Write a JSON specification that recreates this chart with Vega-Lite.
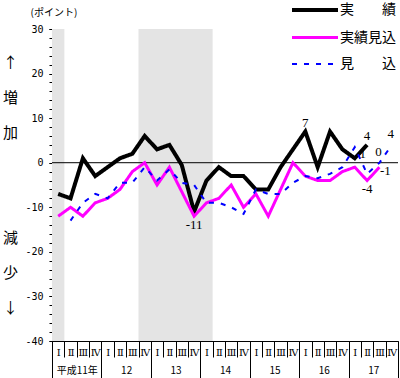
{
  "$schema": "https://vega.github.io/schema/vega-lite/v6.json",
  "width": 346,
  "height": 312,
  "autosize": {"type": "none"},
  "padding": {"left": 52, "top": 29, "right": 2, "bottom": 37},
  "background": "#ffffff",
  "config": {"view": {"stroke": null}, "axis": {"labelOverlap": false, "labelFlush": false, "labelBound": false}, "legend": {"rowPadding": 10, "padding": 0}},
  "datasets": {
    "shade": [{"a": 0, "b": 1}, {"a": 7, "b": 13}],
    "zero": [{"z": 0}],
    "main": [
      {"t": 0.5, "series": "実　　績", "v": -7}, {"t": 1.5, "series": "実　　績", "v": -8}, {"t": 2.5, "series": "実　　績", "v": 1}, {"t": 3.5, "series": "実　　績", "v": -3},
      {"t": 4.5, "series": "実　　績", "v": -1}, {"t": 5.5, "series": "実　　績", "v": 1}, {"t": 6.5, "series": "実　　績", "v": 2}, {"t": 7.5, "series": "実　　績", "v": 6},
      {"t": 8.5, "series": "実　　績", "v": 3}, {"t": 9.5, "series": "実　　績", "v": 4}, {"t": 10.5, "series": "実　　績", "v": -0.5}, {"t": 11.5, "series": "実　　績", "v": -11},
      {"t": 12.5, "series": "実　　績", "v": -4}, {"t": 13.5, "series": "実　　績", "v": -1}, {"t": 14.5, "series": "実　　績", "v": -3}, {"t": 15.5, "series": "実　　績", "v": -3},
      {"t": 16.5, "series": "実　　績", "v": -6}, {"t": 17.5, "series": "実　　績", "v": -6}, {"t": 18.5, "series": "実　　績", "v": -1}, {"t": 19.5, "series": "実　　績", "v": 3},
      {"t": 20.5, "series": "実　　績", "v": 7}, {"t": 21.5, "series": "実　　績", "v": -1}, {"t": 22.5, "series": "実　　績", "v": 7}, {"t": 23.5, "series": "実　　績", "v": 3},
      {"t": 24.5, "series": "実　　績", "v": 1}, {"t": 25.5, "series": "実　　績", "v": 4},
      {"t": 0.5, "series": "実績見込", "v": -12}, {"t": 1.5, "series": "実績見込", "v": -10}, {"t": 2.5, "series": "実績見込", "v": -12}, {"t": 3.5, "series": "実績見込", "v": -9},
      {"t": 4.5, "series": "実績見込", "v": -8}, {"t": 5.5, "series": "実績見込", "v": -6}, {"t": 6.5, "series": "実績見込", "v": -2}, {"t": 7.5, "series": "実績見込", "v": 0},
      {"t": 8.5, "series": "実績見込", "v": -5}, {"t": 9.5, "series": "実績見込", "v": -1}, {"t": 10.5, "series": "実績見込", "v": -6.5}, {"t": 11.5, "series": "実績見込", "v": -12},
      {"t": 12.5, "series": "実績見込", "v": -9}, {"t": 13.5, "series": "実績見込", "v": -8}, {"t": 14.5, "series": "実績見込", "v": -5}, {"t": 15.5, "series": "実績見込", "v": -10},
      {"t": 16.5, "series": "実績見込", "v": -7}, {"t": 17.5, "series": "実績見込", "v": -12}, {"t": 18.5, "series": "実績見込", "v": -6}, {"t": 19.5, "series": "実績見込", "v": 0},
      {"t": 20.5, "series": "実績見込", "v": -3}, {"t": 21.5, "series": "実績見込", "v": -4}, {"t": 22.5, "series": "実績見込", "v": -4}, {"t": 23.5, "series": "実績見込", "v": -2},
      {"t": 24.5, "series": "実績見込", "v": -1}, {"t": 25.5, "series": "実績見込", "v": -4}, {"t": 26.5, "series": "実績見込", "v": -1},
      {"t": 1.5, "series": "見　　込", "v": -13}, {"t": 2.5, "series": "見　　込", "v": -9}, {"t": 3.5, "series": "見　　込", "v": -7},
      {"t": 4.5, "series": "見　　込", "v": -8}, {"t": 5.5, "series": "見　　込", "v": -4.5}, {"t": 6.5, "series": "見　　込", "v": -4.5}, {"t": 7.5, "series": "見　　込", "v": -1},
      {"t": 8.5, "series": "見　　込", "v": -4}, {"t": 9.5, "series": "見　　込", "v": -1.5}, {"t": 10.5, "series": "見　　込", "v": -4.5}, {"t": 11.5, "series": "見　　込", "v": -5},
      {"t": 12.5, "series": "見　　込", "v": -9}, {"t": 13.5, "series": "見　　込", "v": -9}, {"t": 14.5, "series": "見　　込", "v": -10}, {"t": 15.5, "series": "見　　込", "v": -11.5},
      {"t": 16.5, "series": "見　　込", "v": -6}, {"t": 17.5, "series": "見　　込", "v": -7}, {"t": 18.5, "series": "見　　込", "v": -7}, {"t": 19.5, "series": "見　　込", "v": -4.5},
      {"t": 20.5, "series": "見　　込", "v": -3}, {"t": 21.5, "series": "見　　込", "v": -3.5}, {"t": 22.5, "series": "見　　込", "v": -2.5}, {"t": 23.5, "series": "見　　込", "v": -1},
      {"t": 24.5, "series": "見　　込", "v": 3.5}, {"t": 25.5, "series": "見　　込", "v": -2.5}, {"t": 26.5, "series": "見　　込", "v": 0}, {"t": 27.5, "series": "見　　込", "v": 4}
    ],
    "labels": [
      {"t": 20.5, "v": 7, "label": "7", "k": "a"},
      {"t": 25.5, "v": 4, "label": "4", "k": "a"},
      {"t": 24.5, "v": 1, "label": "1", "k": "a"},
      {"t": 11.5, "v": -11, "label": "-11", "k": "a"},
      {"t": 25.5, "v": -4, "label": "-4", "k": "m"},
      {"t": 26.5, "v": -1, "label": "-1", "k": "m"},
      {"t": 26.5, "v": 0, "label": "0", "k": "b"},
      {"t": 27.5, "v": 4, "label": "4", "k": "b"}
    ]
  },
  "resolve": {"axis": {"x": "independent", "y": "independent"}},
  "layer": [
    {
      "data": {"name": "shade"},
      "mark": {"type": "rect", "color": "#e4e4e4"},
      "encoding": {
        "x": {"field": "a", "type": "quantitative", "scale": {"domain": [0, 28], "nice": false, "zero": false},
          "axis": {"orient": "bottom", "title": "(ポイント)", "titleX": -22, "titleY": -329, "titleAlign": "left", "titleBaseline": "middle", "titleAngle": 0,
            "titleFont": "Noto Sans CJK JP", "titleFontSize": 10, "titleFontWeight": "normal", "titleColor": "#000000",
            "grid": false, "values": [0,1,2,3,4,5,6,7,8,9,10,11,12,13,14,15,16,17,18,19,20,21,22,23,24,25,26,27,28],
            "domain": true, "domainColor": "#000000", "domainWidth": 1, "ticks": true, "tickSize": 16, "tickColor": "#000000", "tickWidth": 1,
            "labelExpr": "datum.value < 28 ? ['Ⅰ','Ⅱ','Ⅲ','Ⅳ'][datum.value % 4] : ''",
            "labelOffset": 6.18, "labelPadding": -5, "labelBaseline": "middle", "labelAlign": "center",
            "labelFont": "DejaVu Serif", "labelFontSize": 10, "labelColor": "#000000",
            "labelOverlap": false, "labelFlush": false, "labelBound": false}},
        "x2": {"field": "b"},
        "y": {"datum": 30, "type": "quantitative", "scale": {"domain": [-40, 30], "nice": false}, "axis": null},
        "y2": {"datum": -40}
      }
    },
    {
      "data": {"name": "zero"},
      "mark": {"type": "rule", "color": "#000000", "strokeWidth": 1},
      "encoding": {"y": {"field": "z", "type": "quantitative", "scale": {"domain": [-40, 30], "nice": false},
        "axis": {"orient": "left", "title": null, "grid": false, "domain": false, "labels": false, "ticks": true, "tickSize": 3, "tickColor": "#000000",
          "values": [-40,-38,-36,-34,-32,-30,-28,-26,-24,-22,-20,-18,-16,-14,-12,-10,-8,-6,-4,-2,0,2,4,6,8,10,12,14,16,18,20,22,24,26,28,30]}}}
    },
    {
      "data": {"name": "main"},
      "mark": {"type": "line"},
      "encoding": {
        "x": {"field": "t", "type": "quantitative", "scale": {"domain": [0, 28], "nice": false, "zero": false},
          "axis": {"orient": "bottom", "title": null, "grid": false, "values": [0,4,8,12,16,20,24,28],
            "domain": false, "ticks": true, "tickSize": 37, "tickColor": "#000000", "tickWidth": 1,
            "labelExpr": "datum.value == 0 ? '平成11年' : (datum.value < 28 ? '' + (11 + datum.value / 4) : '')",
            "labelOffset": 24.71, "labelPadding": -8, "labelBaseline": "middle", "labelAlign": "center",
            "labelFont": "Noto Sans CJK JP", "labelFontSize": 10, "labelColor": "#000000",
            "labelOverlap": false, "labelFlush": false, "labelBound": false}},
        "y": {"field": "v", "type": "quantitative", "scale": {"domain": [-40, 30], "nice": false},
          "axis": {"orient": "left", "title": ["↑", "増", "加", "\u200b", "\u200b\u200b", "減", "少", "↓"], "titleAngle": 0, "titleX": -42, "titleY": 26,
            "titleAlign": "center", "titleBaseline": "top", "titleLineHeight": 35, "titleFontSize": 15,
            "titleFont": "Noto Sans CJK JP", "titleFontWeight": "normal", "titleColor": "#000000",
            "grid": false, "values": [-40,-30,-20,-10,0,10,20,30],
            "tickSize": 3, "tickColor": "#000000", "domainColor": "#000000",
            "labelExpr": "'' + datum.value",
            "labelPadding": 6, "labelFont": "DejaVu Sans Mono", "labelFontSize": 10, "labelColor": "#000000", "labelOverlap": false, "labelBound": false, "labelFlush": false}},
        "color": {"field": "series", "type": "nominal",
          "scale": {"domain": ["実　　績", "実績見込", "見　　込"], "range": ["#000000", "#ff00ff", "#0000ff"]},
          "legend": {"orient": "none", "legendX": 253, "legendY": -29, "title": null, "symbolType": "M-3,0H3", "symbolSize": 235,
            "labelFont": "Noto Sans CJK JP", "labelFontSize": 14, "labelColor": "#000000", "rowPadding": 10, "labelOffset": 15, "padding": 0, "labelLimit": 200}},
        "strokeDash": {"field": "series", "type": "nominal",
          "scale": {"domain": ["実　　績", "実績見込", "見　　込"], "range": [[1, 0], [1, 0], [5, 7]]},
          "legend": {"orient": "none", "legendX": 253, "legendY": -29, "title": null, "symbolType": "M-3,0H3", "symbolSize": 235,
            "labelFont": "Noto Sans CJK JP", "labelFontSize": 14, "labelColor": "#000000", "rowPadding": 10, "labelOffset": 15, "padding": 0, "labelLimit": 200}},
        "strokeWidth": {"field": "series", "type": "nominal",
          "scale": {"domain": ["実　　績", "実績見込", "見　　込"], "range": [4, 2, 2.5]},
          "legend": {"orient": "none", "legendX": 253, "legendY": -29, "title": null, "symbolType": "M-3,0H3", "symbolSize": 235,
            "labelFont": "Noto Sans CJK JP", "labelFontSize": 14, "labelColor": "#000000", "rowPadding": 10, "labelOffset": 15, "padding": 0, "labelLimit": 200}}
      }
    },
    {
      "data": {"name": "labels"},
      "transform": [{"filter": "datum.k == 'a' && datum.v >= 4"}],
      "mark": {"type": "text", "font": "Liberation Serif", "fontSize": 13, "color": "#000000", "dy": -9, "align": "center", "baseline": "middle"},
      "encoding": {
        "x": {"field": "t", "type": "quantitative", "scale": {"domain": [0, 28], "nice": false, "zero": false}, "axis": null},
        "y": {"field": "v", "type": "quantitative", "scale": {"domain": [-40, 30], "nice": false}, "axis": null},
        "text": {"field": "label"}
      }
    },
    {
      "data": {"name": "labels"},
      "transform": [{"filter": "datum.k == 'b'"}],
      "mark": {"type": "text", "font": "Liberation Serif", "fontSize": 13, "color": "#000000", "dy": -11, "dx": -1, "align": "center", "baseline": "middle"},
      "encoding": {
        "x": {"field": "t", "type": "quantitative", "scale": {"domain": [0, 28], "nice": false, "zero": false}, "axis": null},
        "y": {"field": "v", "type": "quantitative", "scale": {"domain": [-40, 30], "nice": false}, "axis": null},
        "text": {"field": "label"}
      }
    },
    {
      "data": {"name": "labels"},
      "transform": [{"filter": "datum.k == 'a' && datum.v < 0"}],
      "mark": {"type": "text", "font": "Liberation Serif", "fontSize": 13, "color": "#000000", "dy": 13, "align": "center", "baseline": "middle"},
      "encoding": {
        "x": {"field": "t", "type": "quantitative", "scale": {"domain": [0, 28], "nice": false, "zero": false}, "axis": null},
        "y": {"field": "v", "type": "quantitative", "scale": {"domain": [-40, 30], "nice": false}, "axis": null},
        "text": {"field": "label"}
      }
    },
    {
      "data": {"name": "labels"},
      "transform": [{"filter": "datum.k == 'm' && datum.v == -4"}],
      "mark": {"type": "text", "font": "Liberation Serif", "fontSize": 13, "color": "#000000", "dy": 8, "align": "center", "baseline": "middle"},
      "encoding": {
        "x": {"field": "t", "type": "quantitative", "scale": {"domain": [0, 28], "nice": false, "zero": false}, "axis": null},
        "y": {"field": "v", "type": "quantitative", "scale": {"domain": [-40, 30], "nice": false}, "axis": null},
        "text": {"field": "label"}
      }
    },
    {
      "data": {"name": "labels"},
      "transform": [{"filter": "datum.k == 'a' && datum.v == 1"}],
      "mark": {"type": "text", "font": "Liberation Serif", "fontSize": 13, "color": "#000000", "dx": 8, "dy": -4, "align": "center", "baseline": "middle"},
      "encoding": {
        "x": {"field": "t", "type": "quantitative", "scale": {"domain": [0, 28], "nice": false, "zero": false}, "axis": null},
        "y": {"field": "v", "type": "quantitative", "scale": {"domain": [-40, 30], "nice": false}, "axis": null},
        "text": {"field": "label"}
      }
    },
    {
      "data": {"name": "labels"},
      "transform": [{"filter": "datum.k == 'm' && datum.v == -1"}],
      "mark": {"type": "text", "font": "Liberation Serif", "fontSize": 13, "color": "#000000", "dx": 6, "dy": 4, "align": "center", "baseline": "middle"},
      "encoding": {
        "x": {"field": "t", "type": "quantitative", "scale": {"domain": [0, 28], "nice": false, "zero": false}, "axis": null},
        "y": {"field": "v", "type": "quantitative", "scale": {"domain": [-40, 30], "nice": false}, "axis": null},
        "text": {"field": "label"}
      }
    }
  ]
}
